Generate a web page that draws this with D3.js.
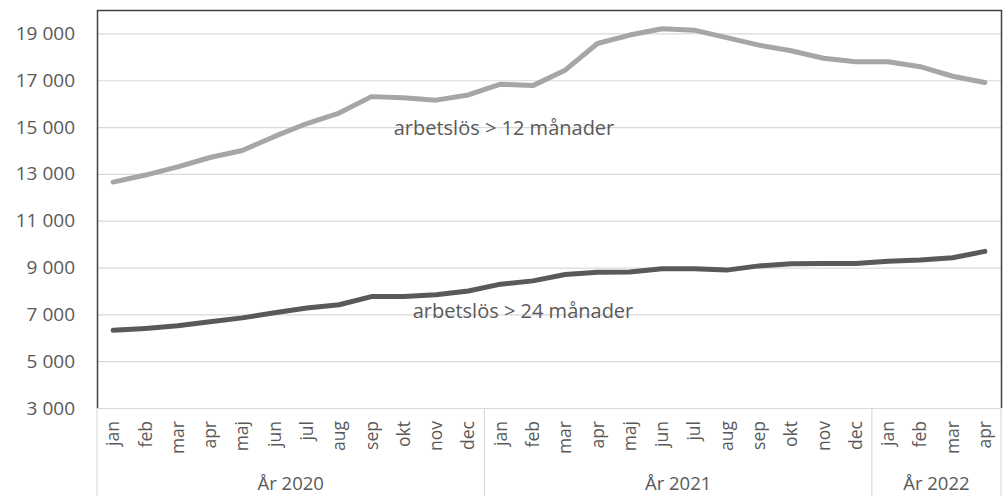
<!DOCTYPE html>
<html>
<head>
<meta charset="utf-8">
<script src="https://cdn.jsdelivr.net/npm/d3@7"></script>
<style>
  body { margin: 0; background: #fff; }
  text { font-family: "Open Sans", sans-serif; fill: #595959; }
</style>
</head>
<body>
<svg id="chart" width="1003" height="496"></svg>
<script>
const months = ['jan','feb','mar','apr','maj','jun','jul','aug','sep','okt','nov','dec']
const years = [
  { label: 'År 2020', n: 12 },
  { label: 'År 2021', n: 12 },
  { label: 'År 2022', n: 4 }
]
const over12 = [12650, 12950, 13300, 13700, 14000, 14600, 15150, 15600, 16300, 16250, 16150, 16370,
                16830, 16770, 17430, 18570, 18930, 19200, 19140, 18820, 18500, 18260, 17940, 17790,
                17790, 17580, 17170, 16900]
const over24 = [6320, 6400, 6510, 6680, 6850, 7070, 7270, 7410, 7760, 7760, 7840, 8000,
                8290, 8430, 8700, 8800, 8810, 8950, 8950, 8890, 9070, 9160, 9170, 9170,
                9270, 9320, 9420, 9690]
const yTicks = [3000, 5000, 7000, 9000, 11000, 13000, 15000, 17000, 19000]

// build category list from years
const cats = []
years.forEach((y, yi) => {
  for (let i = 0; i < y.n; i++) cats.push({ key: yi + '-' + i, month: months[i], year: yi })
})

const svg = d3.select('#chart')
const plotL = 97, plotR = 1001, plotT = 10, plotB = 408

const x = d3.scaleBand().domain(cats.map(d => d.key)).range([plotL, plotR]).padding(0)
const y = d3.scaleLinear().domain([3000, 20000]).range([plotB, plotT])

const sv = d3.formatLocale({ decimal: ',', thousands: '\u00a0', grouping: [3], currency: ['', ' kr'] })
const fmt = sv.format(',d')

// gridlines
svg.append('g').selectAll('line').data(yTicks.slice(1)).enter().append('line')
  .attr('x1', plotL).attr('x2', plotR)
  .attr('y1', d => y(d) + 0.5).attr('y2', d => y(d) + 0.5)
  .attr('stroke', '#d9d9d9').attr('stroke-width', 1.2)

// y axis labels
const yAxis = svg.append('g').attr('transform', `translate(${plotL},0)`)
  .call(d3.axisLeft(y).tickValues(yTicks).tickFormat(fmt).tickSize(0).tickPadding(22))
yAxis.select('.domain').remove()
yAxis.selectAll('text').style('font-size', '19px').attr('fill', '#595959')

// x axis baseline
svg.append('line').attr('x1', plotL).attr('x2', plotR).attr('y1', plotB + 0.5).attr('y2', plotB + 0.5)
  .attr('stroke', '#d9d9d9').attr('stroke-width', 1.2)

// year separators
let acc = 0
const seps = [0]
years.forEach(yr => { acc += yr.n; seps.push(acc) })
svg.append('g').selectAll('line').data(seps).enter().append('line')
  .attr('x1', d => d === cats.length ? plotR : x(cats[d].key))
  .attr('x2', d => d === cats.length ? plotR : x(cats[d].key))
  .attr('y1', plotB).attr('y2', 496)
  .attr('stroke', '#d9d9d9').attr('stroke-width', 1.2)

// month labels
svg.append('g').selectAll('text').data(cats).enter().append('text')
  .attr('transform', d => `translate(${x(d.key) + x.bandwidth() / 2},421) rotate(-90)`)
  .attr('text-anchor', 'end').attr('dy', '0.35em')
  .style('font-size', '17.5px')
  .text(d => d.month)

// year labels
acc = 0
years.forEach(yr => {
  const x0 = x(cats[acc].key)
  const x1 = acc + yr.n === cats.length ? plotR : x(cats[acc + yr.n].key)
  svg.append('text').attr('x', (x0 + x1) / 2).attr('y', 490)
    .attr('text-anchor', 'middle').style('font-size', '18.5px').text(yr.label)
  acc += yr.n
})

// lines
const line = d3.line().x((d, i) => x(cats[i].key) + x.bandwidth() / 2).y(d => y(d))
svg.append('path').datum(over12).attr('d', line).attr('fill', 'none')
  .attr('stroke', '#a6a6a6').attr('stroke-width', 5).attr('stroke-linejoin', 'round').attr('stroke-linecap', 'round')
svg.append('path').datum(over24).attr('d', line).attr('fill', 'none')
  .attr('stroke', '#595959').attr('stroke-width', 5).attr('stroke-linejoin', 'round').attr('stroke-linecap', 'round')

// series labels
svg.append('text').attr('x', 504).attr('y', 135).attr('text-anchor', 'middle')
  .style('font-size', '20px').text('arbetslös > 12 månader')
svg.append('text').attr('x', 523).attr('y', 318).attr('text-anchor', 'middle')
  .style('font-size', '20px').text('arbetslös > 24 månader')

// frame
svg.append('path')
  .attr('d', `M${plotL + 0.5},${plotB} V${plotT + 0.5} H${plotR + 0.5} V${plotB}`)
  .attr('fill', 'none').attr('stroke', '#404040').attr('stroke-width', 1.5)
</script>
</body>
</html>
